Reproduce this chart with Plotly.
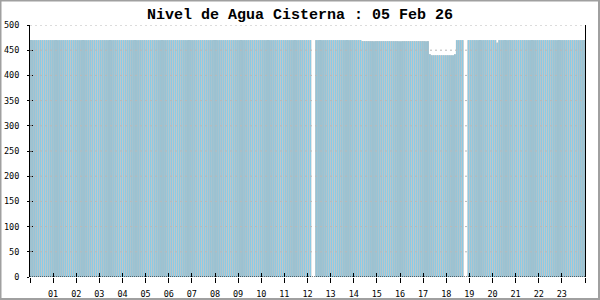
import plotly.graph_objects as go

title_text = "Nivel de Agua Cisterna : 05 Feb 26"

# water level every 5 minutes (12 readings per hour), None = missing reading
level_by_hour = [
    [470, 470, 470, 470, 470, 470, 470, 470, 470, 470, 470, 470],  # 00
    [470, 470, 470, 470, 470, 470, 470, 470, 470, 470, 470, 470],  # 01
    [470, 470, 470, 470, 470, 470, 470, 470, 470, 470, 470, 470],  # 02
    [470, 470, 470, 470, 470, 470, 470, 470, 470, 470, 470, 470],  # 03
    [470, 470, 470, 470, 470, 470, 470, 470, 470, 470, 470, 470],  # 04
    [470, 470, 470, 470, 470, 470, 470, 470, 470, 470, 470, 470],  # 05
    [470, 470, 470, 470, 470, 470, 470, 470, 470, 470, 470, 470],  # 06
    [470, 470, 470, 470, 470, 470, 470, 470, 470, 470, 470, 470],  # 07
    [470, 470, 470, 470, 470, 470, 470, 470, 470, 470, 470, 470],  # 08
    [470, 470, 470, 470, 470, 470, 470, 470, 470, 470, 470, 470],  # 09
    [470, 470, 470, 470, 470, 470, 470, 470, 470, 470, 470, 470],  # 10
    [470, 470, 470, 470, 470, 470, 470, 470, 470, 470, 470, 470],  # 11
    [470, 470, None, None, 470, 470, 470, 470, 470, 470, 470, 470],  # 12
    [470, 470, 470, 470, 470, 470, 470, 470, 470, 470, 470, 470],  # 13
    [470, 470, 470, 470, 468, 468, 468, 468, 468, 468, 468, 468],  # 14
    [468, 468, 468, 468, 468, 468, 468, 468, 468, 468, 468, 468],  # 15
    [468, 468, 468, 468, 468, 468, 468, 468, 468, 468, 468, 468],  # 16
    [468, 468, 468, 442, 440, 440, 440, 440, 440, 440, 440, 440],  # 17
    [440, 440, 440, 440, 442, 470, 470, 470, 470, None, None, 470],  # 18
    [470, 470, 470, 470, 470, 470, 470, 470, 470, 470, 470, 470],  # 19
    [470, 470, 465, 470, 470, 470, 470, 470, 470, 470, 470, 470],  # 20
    [470, 470, 470, 470, 470, 470, 470, 470, 470, 470, 470, 470],  # 21
    [470, 470, 470, 470, 470, 470, 470, 470, 470, 470, 470, 470],  # 22
    [470, 470, 470, 470, 470, 470, 470, 470, 470, 470, 470, 470],  # 23
]

hour_ticks = list(range(0, 25))
hour_labels = ["" if h in (0, 24) else f"{h:02d}" for h in hour_ticks]
y_ticks = [0, 50, 100, 150, 200, 250, 300, 350, 400, 450, 500]

levels = [v for hour in level_by_hour for v in hour]
slot = 1.0 / 12.0
times = [(i + 0.5) * slot for i in range(len(levels))]

W, H = 600, 300
ml, mr, mt, mb = 30, 15, 25, 23

fig = go.Figure()
# gray bar body (shows as the thin gray separators)
fig.add_trace(go.Bar(
    x=times, y=levels, width=slot,
    marker=dict(color="rgba(180,180,180,0.999)", line=dict(width=0)),
    hoverinfo="skip",
))
# sky-blue fill of each bar
fig.add_trace(go.Bar(
    x=times, y=levels, width=slot * 0.5,
    marker=dict(color="rgba(135,206,235,0.999)", line=dict(width=0)),
    hoverinfo="x+y",
))
# overlay axes only to draw inward tick halves
fig.add_trace(go.Scatter(x=[0, 24], y=[0, 0], xaxis="x2", yaxis="y2",
                         mode="lines", line=dict(width=0), hoverinfo="skip",
                         showlegend=False))

tickfont = dict(family="DejaVu Sans Mono", size=8.5, color="black")

shapes = []
for yv in y_ticks[1:]:
    shapes.append(dict(type="line", xref="paper", yref="y", x0=0, x1=1, y0=yv, y1=yv,
                       line=dict(color="#b9b9b9", width=1, dash="2px,3px"), layer="above"))
# dotted base line
shapes.append(dict(type="line", xref="paper", yref="y", x0=0, x1=1, y0=0, y1=0,
                   line=dict(color="black", width=1, dash="1px,1px"), layer="above"))
# outer frame
pw = W - ml - mr
ph = H - mt - mb
shapes.append(dict(type="rect", xref="paper", yref="paper",
                   x0=(-ml + 0.5) / pw, x1=(W - ml - 1) / pw,
                   y0=(-mb + 1) / ph, y1=(H - mb - 0.5) / ph,
                   line=dict(color="#a0a0a0", width=2), fillcolor="rgba(0,0,0,0)",
                   layer="above"))

fig.update_layout(
    width=W, height=H,
    margin=dict(l=ml, r=mr, t=mt, b=mb, autoexpand=False),
    paper_bgcolor="white", plot_bgcolor="white",
    showlegend=False, barmode="overlay", bargap=0.0001,
    title=dict(text=title_text, x=0.5, xanchor="center", y=1 - 14 / H, yanchor="middle",
               font=dict(family="Liberation Mono", size=15, color="black", weight="bold")),
    xaxis=dict(range=[0, 24], tickvals=hour_ticks, ticktext=hour_labels,
               ticks="outside", ticklen=5, tickcolor="black", tickwidth=1,
               showgrid=False, zeroline=False, showline=False, automargin=False,
               tickfont=tickfont, ticklabelstandoff=4, fixedrange=True),
    yaxis=dict(range=[0, 500], tickvals=y_ticks, ticks="outside", ticklen=2,
               tickcolor="black", showgrid=False, zeroline=False, automargin=False,
               showline=True, linecolor="black", linewidth=1, mirror=True,
               tickfont=tickfont, ticklabelstandoff=6, fixedrange=True),
    xaxis2=dict(overlaying="x", range=[0, 24], tickvals=hour_ticks, ticktext=[""] * 25,
                ticks="inside", ticklen=4, tickcolor="black", side="bottom",
                automargin=False,
                showgrid=False, zeroline=False, showline=False, fixedrange=True),
    yaxis2=dict(overlaying="y", range=[0, 500], tickvals=y_ticks, ticktext=[""] * 11,
                ticks="inside", ticklen=3, tickcolor="black", side="left",
                automargin=False,
                showgrid=False, zeroline=False, showline=False, fixedrange=True),
    shapes=shapes,
)

fig.write_html("out.html")
